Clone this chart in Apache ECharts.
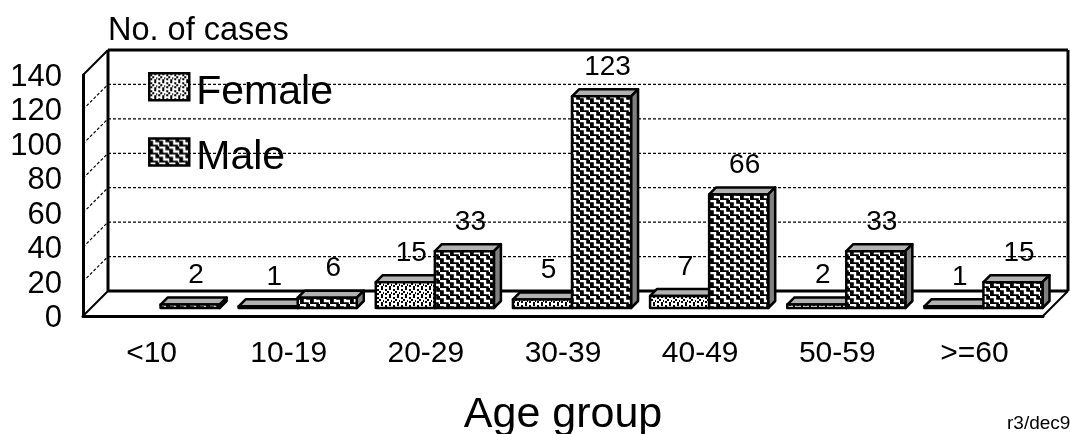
<!DOCTYPE html>
<html><head><meta charset="utf-8">
<style>html,body{margin:0;padding:0;background:#fff}#c{width:1070px;height:434px}</style>
<script src="https://cdn.jsdelivr.net/npm/echarts@6/dist/echarts.min.js"></script>
</head><body><div id="c"></div>
<script>
const categories = ['<10','10-19','20-29','30-39','40-49','50-59','>=60'];
const femaleValues = [null,1,15,5,7,2,1];
const maleValues = [2,6,33,123,66,33,15];
const yTicks = [0,20,40,60,80,100,120,140];

const FONT = '"Liberation Sans", Arial, sans-serif';
const DX = 25, DY = 25;           // wall depth
const BX = 9, BY = 8, BD = 7;     // bar offset and bar depth
const BAR_RATIO = 59 / 137;

function tile(w, h, draw) {
  const c = document.createElement('canvas');
  c.width = w; c.height = h;
  draw(c.getContext('2d'));
  return { image: c, repeat: 'repeat' };
}
const malePattern = tile(10, 8, g => {
  g.fillStyle = '#000'; g.fillRect(0,0,10,8);
  g.strokeStyle = '#fff'; g.lineWidth = 2.4; g.lineJoin = 'miter';
  g.beginPath();
  g.moveTo(-5,-3); g.lineTo(0,-3); g.lineTo(0,1); g.lineTo(5,1); g.lineTo(5,5); g.lineTo(10,5); g.lineTo(10,9); g.lineTo(15,9);
  g.stroke();
});
const femalePattern = tile(8, 8, g => {
  g.fillStyle = '#fff'; g.fillRect(0,0,8,8);
  g.fillStyle = '#000';
  [[1,1],[5,0],[3,3],[7,4],[1,5],[5,6]].forEach(p => g.fillRect(p[0],p[1],2,2));
});

function barItem(side, pattern) {
  return function (params, api) {
    const v = api.value(1);
    if (v == null || isNaN(v)) return null;
    const w = api.size([1,0])[0] * BAR_RATIO;
    const c = api.coord([api.value(0), v]);
    const c0 = api.coord([api.value(0), 0]);
    const x0 = c[0] + BX + (side < 0 ? -w : 0);
    const x1 = x0 + w;
    const yb = c0[1] - BY, yt = c[1] - BY;
    const line = { stroke:'#000', lineWidth:2.5, lineJoin:'round' };
    return { type:'group', children:[
      { type:'polygon', shape:{points:[[x0,yt],[x0+BD,yt-BD],[x1+BD,yt-BD],[x1,yt]]}, style:Object.assign({fill:'#b2b2b2'},line) },
      { type:'polygon', shape:{points:[[x1,yt],[x1+BD,yt-BD],[x1+BD,yb-BD],[x1,yb]]}, style:Object.assign({fill:'#808080'},line) },
      { type:'rect', shape:{x:x0,y:yt,width:w,height:yb-yt}, style:Object.assign({fill:pattern},line) },
      { type:'text', z2:5, style:{ text:String(v), x:(x0+x1)/2+6, y:yt-29, align:'center', verticalAlign:'middle', font:'28px '+FONT, fill:'#000' } }
    ]};
  };
}

function frameItem(params, api) {
  const v = api.value(0);
  const p = api.coord([0, v]);
  const cw = api.size([1,0])[0];
  const xL = p[0] - cw/2, xR = xL + cw*categories.length, y = p[1];
  const solid = { stroke:'#000', lineWidth:3 };
  const dash = { stroke:'#000', lineWidth:1.2, lineDash:[3,2] };
  const ch = [];
  if (v === 0) {
    ch.push({type:'line',shape:{x1:xL,y1:y,x2:xL+DX,y2:y-DY},style:{stroke:'#000',lineWidth:2}});
    ch.push({type:'line',shape:{x1:xR,y1:y,x2:xR+DX,y2:y-DY},style:{stroke:'#000',lineWidth:2}});
    ch.push({type:'line',shape:{x1:xL+DX,y1:y-DY,x2:xR+DX,y2:y-DY},style:solid});
  } else if (v === yTicks[yTicks.length-1]) {
    const yb = api.coord([0,0])[1];
    ch.push({type:'line',shape:{x1:xL,y1:y,x2:xL+DX,y2:y-DY},style:{stroke:'#000',lineWidth:2}});
    ch.push({type:'line',shape:{x1:xL+DX,y1:y-DY,x2:xR+DX,y2:y-DY},style:solid});
    ch.push({type:'line',shape:{x1:xL+DX,y1:y-DY,x2:xL+DX,y2:yb-DY},style:solid});
    ch.push({type:'line',shape:{x1:xR+DX,y1:y-DY,x2:xR+DX,y2:yb-DY},style:solid});
  } else {
    ch.push({type:'line',shape:{x1:xL,y1:y,x2:xL+DX,y2:y-DY},style:dash});
    ch.push({type:'line',shape:{x1:xL+DX,y1:y-DY,x2:xR+DX,y2:y-DY},style:dash});
  }
  return {type:'group',children:ch};
}

const chart = echarts.init(document.getElementById('c'), null, {renderer:'canvas'});
chart.setOption({
  animation:false,
  backgroundColor:'#fff',
  textStyle:{fontFamily:FONT,color:'#000'},
  grid:{left:83,top:75,width:960,height:241,containLabel:false,outerBoundsMode:'none'},
  legend:{
    orient:'vertical', left:143, top:67, itemWidth:40, itemHeight:27, itemGap:24,
    selectedMode:false,
    formatter:'{t|{name}}',
    textStyle:{fontSize:41,fontFamily:FONT,color:'#000',rich:{t:{fontSize:41,fontFamily:FONT,color:'#000',padding:[12,0,0,2]}}},
    data:[
      {name:'Female',icon:'rect',itemStyle:{color:femalePattern,borderColor:'#000',borderWidth:2.5,decal:'none'}},
      {name:'Male',icon:'rect',itemStyle:{color:malePattern,borderColor:'#000',borderWidth:2.5,decal:'none'}}
    ]
  },
  xAxis:{
    type:'category', data:categories,
    axisLine:{show:true,lineStyle:{color:'#000',width:3}},
    axisTick:{show:false},
    axisLabel:{fontSize:30,fontFamily:FONT,color:'#000',margin:23,interval:0},
    name:'Age group', nameLocation:'center', nameGap:78,
    nameTextStyle:{fontSize:43,fontFamily:FONT,color:'#000'}
  },
  yAxis:{
    type:'value', min:0, max:140, interval:20,
    axisLine:{show:true,lineStyle:{color:'#000',width:3}},
    axisTick:{show:false},
    splitLine:{show:false},
    axisLabel:{fontSize:31,fontFamily:FONT,color:'#000',margin:21,formatter:'{t|{value}}',rich:{t:{fontSize:31,fontFamily:FONT,color:'#000',padding:[5,0,0,0]}}},
    name:'No. of cases', nameLocation:'end', nameGap:27,
    nameTextStyle:{fontSize:32.5,fontFamily:FONT,color:'#000',align:'left',padding:[0,0,0,25]}
  },
  graphic:[{type:'text',left:1007,top:414,style:{text:'r3/dec9',font:'19px '+FONT,fill:'#000'}}],
  series:[
    {type:'custom',name:'wall',silent:true,z:1,data:yTicks.map(v=>[v]),encode:{y:0},renderItem:frameItem,legendHoverLink:false},
    {type:'custom',name:'Female',z:2,data:femaleValues.map((v,i)=>[i,v]),encode:{x:0,y:1},renderItem:barItem(-1,femalePattern)},
    {type:'custom',name:'Male',z:3,data:maleValues.map((v,i)=>[i,v]),encode:{x:0,y:1},renderItem:barItem(1,malePattern)}
  ]
});
</script></body></html>
